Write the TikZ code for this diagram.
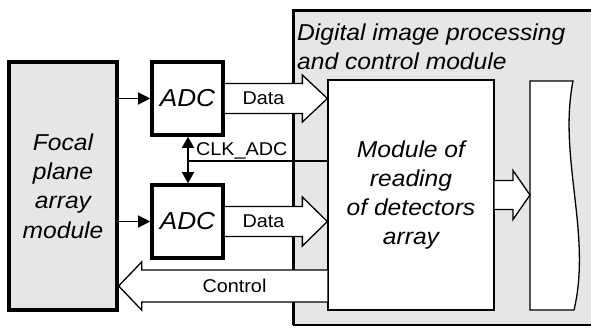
\documentclass[tikz,border=0pt]{standalone}
\usepackage{fontspec}
\setmainfont{Liberation Sans}[FakeStretch=1.07]
\usetikzlibrary{arrows.meta,calc}
\definecolor{panelgray}{HTML}{E6E6E6}

% hollow horizontal block arrow: from, to, half shaft, half head, head length (signed), label
\newcommand\blockarrow[6]{%
  \draw[blockarr] let \p1=(#1), \p2=(#2) in
    (\x1,{\y1+#3}) -- ({\x2-(#5)},{\y1+#3}) -- ({\x2-(#5)},{\y1+#4}) -- (\x2,\y1)
    -- ({\x2-(#5)},{\y1-#4}) -- ({\x2-(#5)},{\y1-#3}) -- (\x1,{\y1-#3})
    node[smalltext] at ({(\x1+\x2-(#5))/2},\y1) {#6};}

\begin{document}
\begin{tikzpicture}[x=1pt,y=-1pt,
  thinline/.style={line width=1.3pt},
  heavybox/.style={draw,line width=3.6pt,fill=white,inner sep=0pt},
  lightbox/.style={draw,line width=1.3pt,fill=white,inner sep=0pt},
  maintext/.style={font=\fontsize{23}{29.3}\selectfont\itshape,align=center},
  smalltext/.style={font=\fontsize{18.5}{22}\selectfont},
  tip/.style={-{Triangle[length=12pt,width=12pt]}},
  dtip/.style={{Triangle[length=11pt,width=12pt]}-{Triangle[length=11pt,width=12pt]}},
  blockarr/.style={draw,line width=1.3pt,fill=white,line join=miter},
]
\useasboundingbox (0,0) rectangle (591,327);

% processing module panel
\fill[panelgray] (293,10) rectangle (591,325);
\draw[line width=3pt] (591,10) -- (293,10) -- (293,325);
\draw[line width=2pt] (293,325) -- (591,325);
\node[maintext,align=left,anchor=north west,inner sep=0pt] (title) at (297,23.5)
  {Digital image processing\\and control module};

% blocks
\node[heavybox,line width=3.3pt,fill=panelgray,minimum width=108pt,minimum height=248pt,maintext]
  (focal) at (63,186) {Focal\\plane\\array\\module};
\node[heavybox,minimum width=71pt,minimum height=73pt,font=\fontsize{24.5}{28}\selectfont\itshape]
  (adc1) at (187.5,98.5) {ADC};
\node[heavybox,minimum width=71pt,minimum height=73pt,font=\fontsize{24.5}{28}\selectfont\itshape]
  (adc2) at (187.5,221.5) {ADC};
\node[lightbox,minimum width=166pt,minimum height=230pt,maintext]
  (read) at (411,195) {Module of\\reading\\of detectors\\array};

% storage block with a wavy right side
\draw[thinline,fill=white] (530,81) -- (573,81)
  .. controls (558,157) and (592,234) .. (574,310) -- (530,310) -- cycle;
\coordinate (store) at (530,195.5);

% signal lines
\draw[thinline,tip] (focal.east |- adc1) -- (adc1.west);
\draw[thinline,tip] (focal.east |- adc2) -- (adc2.west);
\coordinate (clk) at (188,161);
\draw[thinline] (read.west |- clk) -- node[smalltext,above,pos=0.614,inner sep=1pt] {CLK\_ADC} (clk);
\draw[thinline,dtip] (clk |- adc1.south) -- (clk |- adc2.north);

% data buses
\blockarrow{adc1.east}{read.west}{15pt}{23.5pt}{25pt}{Data}
\blockarrow{adc2.east}{read.west}{15pt}{24.5pt}{25pt}{Data}
\blockarrow{$(read.west)+(0,91)$}{focal.east}{16pt}{24pt}{-23pt}{Control}
\blockarrow{read.east}{store}{14.5pt}{24.5pt}{17pt}{}
\end{tikzpicture}
\end{document}
